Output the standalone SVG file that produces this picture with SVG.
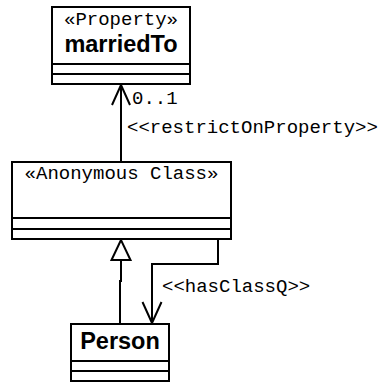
<svg xmlns="http://www.w3.org/2000/svg" width="380" height="383" viewBox="0 0 380 383">
  <defs>
    <style>
      .box { fill: #fff; stroke: #000; stroke-width: 2; }
      .sep { stroke: #000; stroke-width: 2; fill: none; }
      .edge { stroke: #000; stroke-width: 2; fill: none; }
      .head { stroke: #000; stroke-width: 2; fill: none; stroke-linejoin: miter; }
      .tri { stroke: #000; stroke-width: 2; fill: #fff; stroke-linejoin: miter; }
      .stereo { font-family: "Liberation Mono", "DejaVu Sans Mono", monospace; font-size: 19px; fill: #000; }
      .name { font-family: "Liberation Sans", Arial, sans-serif; font-size: 23.5px; font-weight: bold; fill: #000; }
      .label { font-family: "Liberation Mono", "DejaVu Sans Mono", monospace; font-size: 19px; fill: #000; }
    </style>
  </defs>
  <rect width="380" height="383" fill="#fff"/>

  <!-- connectors -->
  <g id="connectors">
    <!-- restrictOnProperty: Anonymous Class -> marriedTo -->
    <line class="edge" x1="121" y1="161" x2="121" y2="85"/>
    <polyline class="head" points="112,105 121,85 130,105"/>
    <text class="label" x="132" y="104">0..1</text>
    <text class="label" x="127" y="133">&lt;&lt;restrictOnProperty&gt;&gt;</text>

    <!-- generalization: Person -> Anonymous Class -->
    <polyline class="edge" points="120,324 120,281 121,281 121,260"/>
    <polygon class="tri" points="121,240 111.5,260 130.5,260"/>

    <!-- hasClassQ: Anonymous Class -> Person -->
    <polyline class="edge" points="218,239 218,264 152,264 152,323"/>
    <polyline class="head" points="142.5,302 152,323 161.5,302"/>
    <text class="label" x="162" y="292">&lt;&lt;hasClassQ&gt;&gt;</text>
  </g>

  <!-- «Property» marriedTo -->
  <g id="marriedTo">
    <rect class="box" x="52" y="7" width="138" height="77"/>
    <line class="sep" x1="52" y1="64" x2="190" y2="64"/>
    <line class="sep" x1="52" y1="74" x2="190" y2="74"/>
    <text class="stereo" x="121" y="25" text-anchor="middle">«Property»</text>
    <text class="name" x="121" y="52" text-anchor="middle">marriedTo</text>
  </g>

  <!-- «Anonymous Class» -->
  <g id="anonymousClass">
    <rect class="box" x="12" y="162" width="219" height="77"/>
    <line class="sep" x1="12" y1="218" x2="231" y2="218"/>
    <line class="sep" x1="12" y1="229" x2="231" y2="229"/>
    <text class="stereo" x="121.5" y="179" text-anchor="middle">«Anonymous Class»</text>
  </g>

  <!-- Person -->
  <g id="person">
    <rect class="box" x="71" y="324" width="98" height="57"/>
    <line class="sep" x1="71" y1="361" x2="169" y2="361"/>
    <line class="sep" x1="71" y1="371" x2="169" y2="371"/>
    <text class="name" x="120" y="349" text-anchor="middle">Person</text>
  </g>
</svg>
